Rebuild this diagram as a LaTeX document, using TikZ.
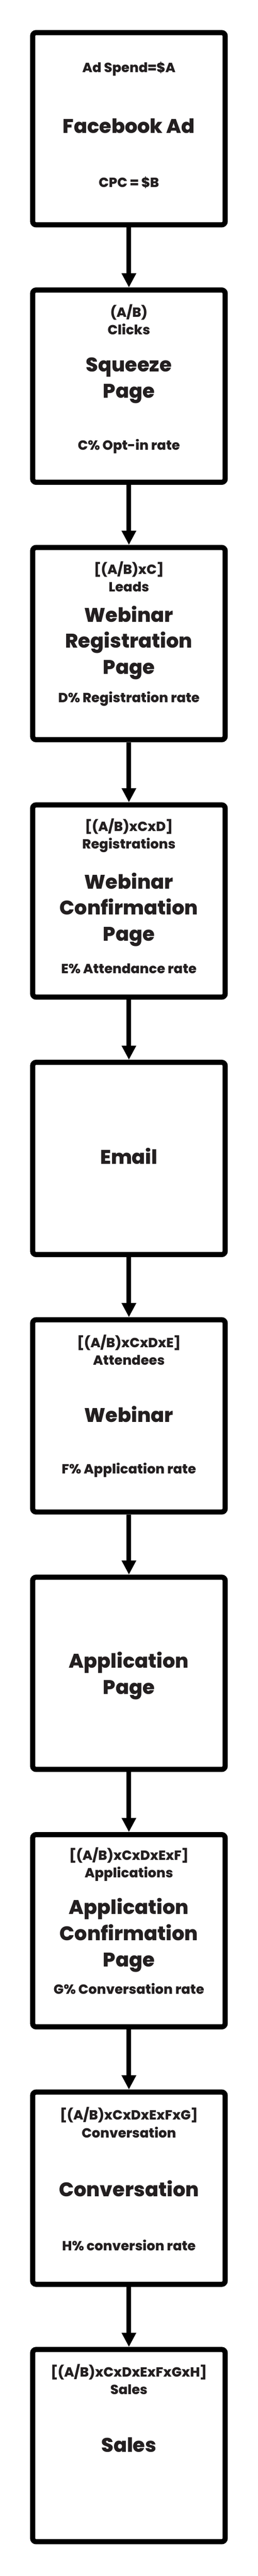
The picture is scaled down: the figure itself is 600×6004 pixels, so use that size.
\documentclass[tikz,border=0pt]{standalone}
\usepackage{fontspec}
\setmainfont{Poppins}[BoldFont={Poppins ExtraBold}]
\usepackage{tikz}
\usetikzlibrary{arrows.meta}
\definecolor{ink}{RGB}{35,31,32}
\tikzstyle{stage} = [draw=black, line width=12pt, rounded corners=8pt, minimum width=448pt, minimum height=448pt, inner sep=0pt]
\tikzstyle{toplabel} = [anchor=center, text=ink, align=center, inner sep=0pt, font={\bfseries\fontsize{31}{41}\selectfont}]
\tikzstyle{titlelabel} = [anchor=center, text=ink, align=center, inner sep=0pt, font={\bfseries\fontsize{46}{61}\selectfont}]
\tikzstyle{flow} = [draw=black, line width=11pt, -{Triangle[width=32pt,length=33pt]}]

\begin{document}
\begin{tikzpicture}[x=1pt, y=-1pt]
  \fill[white] (0,0) rectangle (600,6004);
  \useasboundingbox (0,0) rectangle (600,6004);

  % facebook ad
  \begin{scope}[yshift=0pt]
    \node[stage] (fb) at (300,300) {};
    \node[toplabel] (fbspend) at (300,161) {Ad Spend=\$A};
    \node[titlelabel] (fbtitle) at (300,293) {Facebook Ad};
    \node[toplabel] (fbcpc) at (300,425) {CPC = \$B};
  \end{scope}

  % squeeze page
  \begin{scope}[yshift=-600pt]
    \node[stage] (sq) at (300,300) {};
    \node[toplabel] (sqclicks) at (300,145) {(A/B)\\Clicks};
    \node[titlelabel] (sqtitle) at (300,287) {Squeeze\\Page};
    \node[toplabel] (sqrate) at (300,440) {C\% Opt-in rate};
  \end{scope}

  % webinar registration page
  \begin{scope}[yshift=-1200pt]
    \node[stage] (wr) at (300,300) {};
    \node[toplabel] (wrleads) at (300,144) {[(A/B)xC]\\Leads};
    \node[titlelabel] (wrtitle) at (300,298) {Webinar\\Registration\\Page};
    \node[toplabel] (wrrate) at (300,429) {D\% Registration rate};
  \end{scope}

  % webinar confirmation page
  \begin{scope}[yshift=-1800pt]
    \node[stage] (wc) at (300,300) {};
    \node[toplabel] (wcregs) at (300,147) {[(A/B)xCxD]\\Registrations};
    \node[titlelabel] (wctitle) at (300,320) {Webinar\\Confirmation\\Page};
    \node[toplabel] (wcrate) at (300,458) {E\% Attendance rate};
  \end{scope}

  % email
  \begin{scope}[yshift=-2400pt]
    \node[stage] (em) at (300,300) {};
    \node[titlelabel] (emtitle) at (300,294) {Email};
  \end{scope}

  % webinar
  \begin{scope}[yshift=-3000pt]
    \node[stage] (wb) at (300,300) {};
    \node[toplabel] (wbatt) at (300,146) {[(A/B)xCxDxE]\\Attendees};
    \node[titlelabel] (wbtitle) at (300,296) {Webinar};
    \node[toplabel] (wbrate) at (300,426) {F\% Application rate};
  \end{scope}

  % application page
  \begin{scope}[yshift=-3600pt]
    \node[stage] (ap) at (300,300) {};
    \node[titlelabel] (aptitle) at (300,306) {Application\\Page};
  \end{scope}

  % application confirmation page
  \begin{scope}[yshift=-4200pt]
    \node[stage] (ac) at (300,300) {};
    \node[toplabel] (acapps) at (300,145) {[(A/B)xCxDxExF]\\Applications};
    \node[titlelabel] (actitle) at (300,310) {Application\\Confirmation\\Page};
    \node[toplabel] (acrate) at (300,435) {G\% Conversation rate};
  \end{scope}

  % conversation
  \begin{scope}[yshift=-4800pt]
    \node[stage] (cv) at (300,300) {};
    \node[toplabel] (cvconv) at (300,147) {[(A/B)xCxDxExFxG]\\Conversation};
    \node[titlelabel] (cvtitle) at (300,301) {Conversation};
    \node[toplabel] (cvrate) at (300,433) {H\% conversion rate};
  \end{scope}

  % sales
  \begin{scope}[yshift=-5400pt]
    \node[stage] (sl) at (300,300) {};
    \node[toplabel] (slsales) at (300,146) {[(A/B)xCxDxExFxGxH]\\Sales};
    \node[titlelabel] (sltitle) at (300,298) {Sales};
  \end{scope}

  \draw[flow] (fb) -- (sq);
  \draw[flow] (sq) -- (wr);
  \draw[flow] (wr) -- (wc);
  \draw[flow] (wc) -- (em);
  \draw[flow] (em) -- (wb);
  \draw[flow] (wb) -- (ap);
  \draw[flow] (ap) -- (ac);
  \draw[flow] (ac) -- (cv);
  \draw[flow] (cv) -- (sl);

\end{tikzpicture}
\end{document}
